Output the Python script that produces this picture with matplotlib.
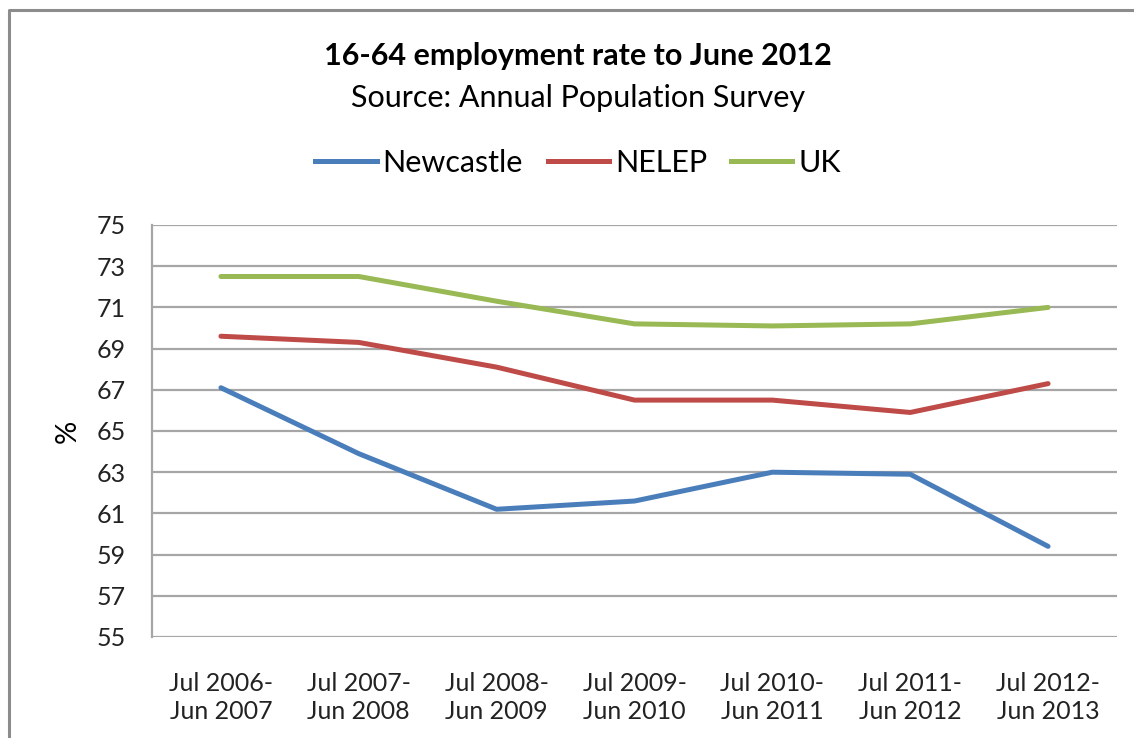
import matplotlib

matplotlib.use("Agg")
import matplotlib.pyplot as plt
from matplotlib.lines import Line2D

periods = [
    "Jul 2006-\nJun 2007",
    "Jul 2007-\nJun 2008",
    "Jul 2008-\nJun 2009",
    "Jul 2009-\nJun 2010",
    "Jul 2010-\nJun 2011",
    "Jul 2011-\nJun 2012",
    "Jul 2012-\nJun 2013",
]
newcastle = [67.1, 63.9, 61.2, 61.6, 63.0, 62.9, 59.4]
nelep = [69.6, 69.3, 68.1, 66.5, 66.5, 65.9, 67.3]
uk = [72.5, 72.5, 71.3, 70.2, 70.1, 70.2, 71.0]
y_ticks = list(range(55, 76, 2))

COLORS = {"Newcastle": "#4a7ebb", "NELEP": "#be4b48", "UK": "#98b954"}
GRID = "#a6a6a6"
FONT = "Lato"

plt.rcParams["font.family"] = [FONT, "DejaVu Sans"]

fig = plt.figure(figsize=(11.34, 7.38), dpi=100)
ax = fig.add_axes([152 / 1134, 101 / 738, 965 / 1134, 412 / 738])

x = range(len(periods))
for name, vals in (("Newcastle", newcastle), ("NELEP", nelep), ("UK", uk)):
    ax.plot(x, vals, color=COLORS[name], lw=3.6, solid_capstyle="round",
            solid_joinstyle="round", label=name, zorder=3)

ax.set_xlim(-0.5, len(periods) - 0.5)
ax.set_ylim(55, 75)
ax.set_yticks(y_ticks)
ax.set_xticks(list(x), periods)
ax.grid(axis="y", color=GRID, lw=1.6)
ax.set_axisbelow(True)
for side in ("top", "right", "bottom"):
    ax.spines[side].set_visible(False)
ax.spines["left"].set_color(GRID)
ax.spines["left"].set_linewidth(1.6)
ax.tick_params(axis="both", length=0, colors="#222222")
ax.tick_params(axis="y", pad=19, labelsize=18)
ax.tick_params(axis="x", pad=25, labelsize=18)
for lbl in ax.get_xticklabels():
    lbl.set_linespacing(1.3)
ax.set_ylabel("%", fontsize=21, labelpad=11)

fig.text(0.51, 1 - 56 / 738, "16-64 employment rate to June 2012",
         ha="center", va="center", fontsize=22, fontweight="bold")
fig.text(0.51, 1 - 98 / 738, "Source: Annual Population Survey",
         ha="center", va="center", fontsize=22)

handles = [Line2D([], [], color=COLORS[n], lw=3.6) for n in COLORS]
fig.legend(handles, list(COLORS), loc="center", ncol=3,
           bbox_to_anchor=(0.51, 1 - 163 / 738), frameon=False,
           fontsize=22, handlelength=2.0, handletextpad=0.2,
           columnspacing=0.8)

# chart area border (top and left edges)
fig.add_artist(Line2D([9 / 1134, 9 / 1134, 1.0], [0.0, 1 - 10 / 738, 1 - 10 / 738],
                      transform=fig.transFigure, color="#8c8c8c", lw=2.2))

fig.savefig("out.png", dpi=100)
